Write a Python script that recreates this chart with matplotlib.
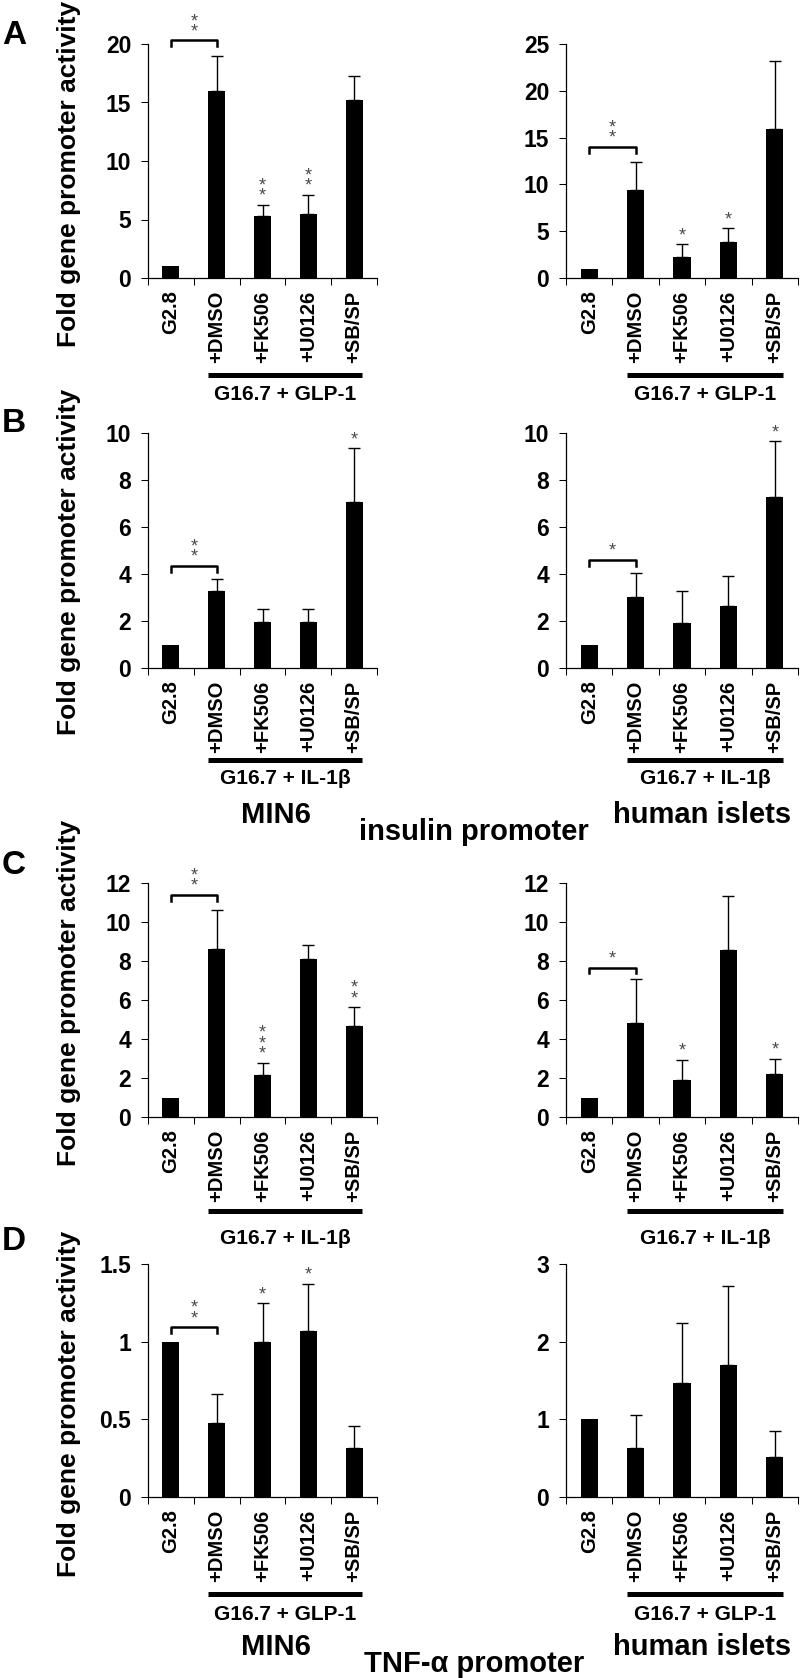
import numpy as np
import matplotlib
matplotlib.use("Agg")
import matplotlib.pyplot as plt
from matplotlib.transforms import offset_copy

plt.rcParams['font.family'] = ['Liberation Sans', 'DejaVu Sans']
plt.rcParams['font.weight'] = 'bold'

categories = ["G2.8", "+DMSO", "+FK506", "+U0126", "+SB/SP"]

# A - insulin promoter, G16.7 + GLP-1
a_min6 = [1.0, 16.0, 5.3, 5.5, 15.2]
a_min6_err = [0, 3.0, 0.97, 1.6, 2.1]
a_min6_stars = ["", "", "**", "**", ""]
a_islets = [1.0, 9.35, 2.22, 3.8, 15.9]
a_islets_err = [0, 3.05, 1.36, 1.5, 7.24]
a_islets_stars = ["", "", "*", "*", ""]

# B - insulin promoter, G16.7 + IL-1b
b_min6 = [1.0, 3.27, 1.96, 1.97, 7.07]
b_min6_err = [0, 0.5, 0.53, 0.55, 2.29]
b_min6_stars = ["", "", "", "", "*"]
b_islets = [1.0, 3.04, 1.93, 2.64, 7.26]
b_islets_err = [0, 1.02, 1.34, 1.26, 2.38]
b_islets_stars = ["", "", "", "", "*"]

# C - TNF-a promoter, G16.7 + IL-1b
c_min6 = [1.0, 8.6, 2.13, 8.08, 4.69]
c_min6_err = [0, 2.0, 0.65, 0.74, 0.93]
c_min6_stars = ["", "", "***", "", "**"]
c_islets = [1.0, 4.82, 1.92, 8.56, 2.23]
c_islets_err = [0, 2.24, 1.02, 2.76, 0.75]
c_islets_stars = ["", "", "*", "", "*"]

# D - TNF-a promoter, G16.7 + GLP-1
d_min6 = [1.0, 0.474, 1.0, 1.068, 0.314]
d_min6_err = [0, 0.19, 0.246, 0.306, 0.145]
d_min6_stars = ["", "", "*", "*", ""]
d_islets = [1.0, 0.63, 1.468, 1.696, 0.514]
d_islets_err = [0, 0.43, 0.77, 1.02, 0.34]
d_islets_stars = ["", "", "", "", ""]

# bracket G2.8 vs +DMSO: height, stars
brackets = {
    "a_min6": (20.3, "**"), "a_islets": (14.0, "**"),
    "b_min6": (4.35, "**"), "b_islets": (4.61, "*"),
    "c_min6": (11.4, "**"), "c_islets": (7.66, "*"),
    "d_min6": (1.094, "**"), "d_islets": None,
}

W, H = 800, 1678
fig = plt.figure(figsize=(W / 100, H / 100), dpi=100)

rows = [(44, 278), (433, 668), (883, 1117), (1264, 1497)]
cols = [(148, 377), (566, 798)]


def pt(px):
    return px * 0.72


def star_text(ax, s, x, y):
    ax.annotate("\n".join(s), (x, y), xytext=(0, 0), textcoords='offset points',
                ha='center', va='bottom', fontsize=13, color='#4a4a4a',
                fontweight='normal', linespacing=0.5, annotation_clip=False)


def draw(ax, vals, errs, stars, ymax, step, bracket):
    x = np.arange(len(categories))
    ax.bar(x, vals, width=0.37, color='black')
    up = np.array(errs)
    m = up > 0
    ax.errorbar(x[m], np.array(vals)[m], yerr=[np.zeros(m.sum()), up[m]], fmt='none',
                ecolor='black', elinewidth=1.0, capsize=4.5, capthick=1.0)
    for xi, v, e, s in zip(x, vals, errs, stars):
        if s:
            star_text(ax, s, xi, v + e)
    if bracket:
        hb, s = bracket
        d = ymax * 0.025
        ax.plot([0, 0, 1, 1], [hb - d, hb, hb, hb - d], color='black', lw=1.8, clip_on=False)
        star_text(ax, s, 0.5, hb)

    ax.set_xlim(-0.5, 4.5)
    ax.set_ylim(0, ymax)
    ticks = np.arange(0, ymax + step / 2, step)
    ax.set_yticks(ticks, labels=[f"{t:g}" for t in ticks])
    ax.set_xticks(np.arange(-0.5, 5.0, 1.0), labels=[])
    ax.set_xticks(x, labels=categories, minor=True, rotation=90)
    ax.tick_params(axis='y', direction='out', length=5, width=0.75, labelsize=16.5, pad=7)
    ax.tick_params(axis='x', which='major', direction='out', length=5, width=0.75)
    ax.tick_params(axis='x', which='minor', length=0, labelsize=14.5, pad=9)
    for sp in ('top', 'right'):
        ax.spines[sp].set_visible(False)
    for sp in ('left', 'bottom'):
        ax.spines[sp].set_linewidth(0.9)


def group(ax, line_px, text_px, label):
    tl = offset_copy(ax.get_xaxis_transform(), fig=fig, y=-pt(line_px), units='points')
    ax.plot([1 - 0.18, 4 + 0.18], [0, 0], transform=tl, color='black', lw=3.6,
            solid_capstyle='butt', clip_on=False)
    tt = offset_copy(ax.get_xaxis_transform(), fig=fig, y=-pt(text_px), units='points')
    ax.text(2.5, 0, label, transform=tt, ha='center', va='center', fontsize=15)


panels = [
    ("a_min6", a_min6, a_min6_err, a_min6_stars, 20, 5),
    ("a_islets", a_islets, a_islets_err, a_islets_stars, 25, 5),
    ("b_min6", b_min6, b_min6_err, b_min6_stars, 10, 2),
    ("b_islets", b_islets, b_islets_err, b_islets_stars, 10, 2),
    ("c_min6", c_min6, c_min6_err, c_min6_stars, 12, 2),
    ("c_islets", c_islets, c_islets_err, c_islets_stars, 12, 2),
    ("d_min6", d_min6, d_min6_err, d_min6_stars, 1.5, 0.5),
    ("d_islets", d_islets, d_islets_err, d_islets_stars, 3, 1),
]
group_labels = ["G16.7 + GLP-1", "G16.7 + IL-1\u03b2", "G16.7 + IL-1\u03b2", "G16.7 + GLP-1"]
group_offsets = [(97, 117), (92, 110), (94, 121), (97, 118)]

for i, (key, vals, errs, stars, ymax, step) in enumerate(panels):
    r, c = divmod(i, 2)
    ytop, ybot = rows[r]
    x0, x1 = cols[c]
    ax = fig.add_axes([x0 / W, 1 - ybot / H, (x1 - x0) / W, (ybot - ytop) / H])
    draw(ax, vals, errs, stars, ymax, step, brackets[key])
    group(ax, group_offsets[r][0], group_offsets[r][1], group_labels[r])

# y labels and panel letters
ylabel_y = [174, 562, 993, 1404]
letter_y = [35, 423, 865, 1242]
for yl, yt, letter in zip(ylabel_y, letter_y, "ABCD"):
    fig.text(69 / W, 1 - yl / H, "Fold gene promoter activity", rotation=90,
             ha='center', va='center', fontsize=19)
    fig.text(14 / W, 1 - yt / H, letter, ha='center', va='center', fontsize=24)

# cell type and promoter captions
for y_cells, y_prom, prom in [(815, 832, "insulin promoter"), (1647, 1664, "TNF-\u03b1 promoter")]:
    fig.text(276 / W, 1 - y_cells / H, "MIN6", ha='center', va='center', fontsize=21)
    fig.text(702 / W, 1 - y_cells / H, "human islets", ha='center', va='center', fontsize=21)
    fig.text(474 / W, 1 - y_prom / H, prom, ha='center', va='center', fontsize=21)

fig.savefig("out.png", dpi=100)
